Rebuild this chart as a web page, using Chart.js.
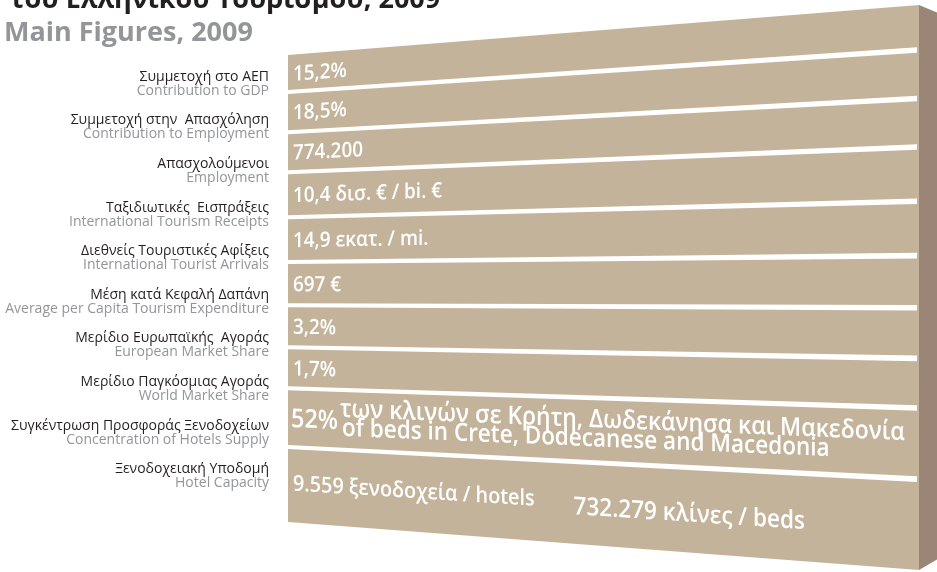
<!DOCTYPE html>
<html>
<head>
<meta charset="utf-8">
<script src="https://cdn.jsdelivr.net/npm/chart.js@4.4.1/dist/chart.umd.min.js"></script>
<style>
  html, body { margin: 0; padding: 0; background: #fff; }
  #wrap { width: 937px; height: 572px; }
</style>
</head>
<body>
<div id="wrap"><canvas id="figuresChart" width="937" height="572"></canvas></div>
<script>
// row labels (Greek / English) and the figure written on each row
const greekLabels = ['Συμμετοχή στο ΑΕΠ', 'Συμμετοχή στην  Απασχόληση', 'Απασχολούμενοι', 'Ταξιδιωτικές  Εισπράξεις',
  'Διεθνείς Τουριστικές Αφίξεις', 'Μέση κατά Κεφαλή Δαπάνη', 'Μερίδιο Ευρωπαϊκής  Αγοράς', 'Μερίδιο Παγκόσμιας Αγοράς',
  'Συγκέντρωση Προσφοράς Ξενοδοχείων', 'Ξενοδοχειακή Υποδομή'];
const englishLabels = ['Contribution to GDP', 'Contribution to Employment', 'Employment', 'International Tourism Receipts',
  'International Tourist Arrivals', 'Average per Capita Tourism Expenditure', 'European Market Share', 'World Market Share',
  'Concentration of Hotels Supply', 'Hotel Capacity'];
const values = ['15,2%', '18,5%', '774.200', '10,4 δισ. € / bi. €', '14,9 εκατ. / mi.', '697 €', '3,2%', '1,7%',
  '52%', '9.559 ξενοδοχεία / hotels'];
const hotelsNote = ['των κλινών σε Κρήτη, Δωδεκάνησα και Μακεδονία', 'of beds in Crete, Dodecanese and Macedonia'];
const bedsValue = '732.279 κλίνες / beds';

const titleTop = 'του Ελληνικού Τουρισμού, 2009';
const titleSub = 'Main Figures, 2009';

// how tall each row is, in y-scale units (last two rows hold more text)
const rowSpans = [0.85, 0.92, 0.92, 1.03, 1.03, 0.99, 0.96, 0.94, 1.35, 1.72];
const rowEdges = rowSpans.reduce((acc, s) => { acc.push(acc[acc.length - 1] + s); return acc; }, [0]);
const rowTotal = rowEdges[rowEdges.length - 1];

const tan = '#c4b39b';
const side = '#9b8576';
const condense = 0.9;
const rise = 50, drop = 48;   // block opens up toward the right

// map (x value, y value) to the slanted front face
function project(chart, u, v) {
  const a = chart.chartArea;
  const px = chart.scales.x.getPixelForValue(u);
  const t = (px - a.left) / (a.right - a.left);
  const top = a.top - rise * t;
  const bot = a.bottom + drop * t;
  const f = (chart.scales.y.getPixelForValue(v) - a.top) / (a.bottom - a.top);
  return [px, top + f * (bot - top)];
}

// white text laid along a row, skewed to follow the perspective
function rowText(ctx, chart, text, px, v, size, dy) {
  const u = chart.scales.x.getValueForPixel(px);
  const [x0, y0] = project(chart, u, v);
  const [x1, y1] = project(chart, u + 0.1, v);
  const slope = (y1 - y0) / (x1 - x0);
  ctx.save();
  ctx.font = '600 ' + size + 'px "Open Sans"';
  ctx.setTransform(condense, slope * condense, 0, 1, x0, y0);
  ctx.fillStyle = '#fff';
  ctx.textAlign = 'left';
  ctx.textBaseline = 'alphabetic';
  ctx.fillText(text, 0, dy === undefined ? size * 0.36 : dy);
  const w = ctx.measureText(text).width * condense;
  ctx.restore();
  return w;
}

const blockPlugin = {
  id: 'block',
  afterDraw(chart) {
    const ctx = chart.ctx;
    const a = chart.chartArea;
    const xs = chart.scales.x, ys = chart.scales.y;

    // titles
    ctx.save();
    ctx.textAlign = 'left';
    ctx.textBaseline = 'alphabetic';
    ctx.fillStyle = '#231f20';
    ctx.font = 'bold 27px "Open Sans"';
    ctx.fillText(titleTop, 10, 8);
    ctx.fillStyle = '#939598';
    ctx.font = 'bold 27px "Open Sans"';
    ctx.fillText(titleSub, 4, 41);
    ctx.restore();

    // side face
    const [xr, yt] = project(chart, 1, 0);
    const [, yb] = project(chart, 1, rowTotal);
    ctx.fillStyle = side;
    ctx.beginPath();
    ctx.moveTo(xr, yt);
    ctx.lineTo(xr + 24, yt + 10);
    ctx.lineTo(xr + 24, yb - 14);
    ctx.lineTo(xr, yb);
    ctx.closePath();
    ctx.fill();

    // front face
    ctx.fillStyle = tan;
    ctx.beginPath();
    [[0, 0], [1, 0], [1, rowTotal], [0, rowTotal]].forEach(([u, v], k) => {
      const [x, y] = project(chart, u, v);
      k ? ctx.lineTo(x, y) : ctx.moveTo(x, y);
    });
    ctx.closePath();
    ctx.fill();

    // white separators between rows
    const uEnd = xs.getValueForPixel(a.right - 2);
    ctx.fillStyle = '#fff';
    for (let i = 1; i < rowSpans.length; i++) {
      const [xl, yl] = project(chart, 0, rowEdges[i]);
      const [xe, ye] = project(chart, uEnd, rowEdges[i]);
      ctx.beginPath();
      ctx.moveTo(xl, yl - 2);
      ctx.lineTo(xe, ye - 2.8);
      ctx.lineTo(xe, ye + 2.8);
      ctx.lineTo(xl, yl + 2);
      ctx.closePath();
      ctx.fill();
    }

    // row labels on the left
    ctx.save();
    ctx.textAlign = 'right';
    ctx.textBaseline = 'middle';
    ctx.font = '14px "Open Sans"';
    greekLabels.forEach((g, i) => {
      const y = ys.getPixelForValue(i + 0.5);
      ctx.fillStyle = '#231f20';
      ctx.fillText(g, a.left - 19, y);
      ctx.fillStyle = '#939598';
      ctx.fillText(englishLabels[i], a.left - 19, y + 14);
    });
    ctx.restore();

    // figures on the rows
    const x0 = a.left + 5;
    for (let i = 0; i < 8; i++) {
      rowText(ctx, chart, values[i], x0, rowEdges[i] + rowSpans[i] * 0.5, 21);
    }
    const c8 = rowEdges[8] + rowSpans[8] * 0.5;
    const w52 = rowText(ctx, chart, values[8], a.left + 3, c8, 26);
    rowText(ctx, chart, hotelsNote[0], a.left + 3 + w52 + 2, c8, 25.5, -3);
    rowText(ctx, chart, hotelsNote[1], a.left + 3 + w52 + 4, c8, 25, 16);
    const wHotels = rowText(ctx, chart, values[9], x0, rowEdges[9] + rowSpans[9] * 0.47, 22);
    rowText(ctx, chart, bedsValue, x0 + wHotels + 39, rowEdges[9] + rowSpans[9] * 0.53, 25);
  }
};

new Chart(document.getElementById('figuresChart'), {
  type: 'scatter',
  data: { datasets: [] },
  options: {
    responsive: false,
    animation: false,
    devicePixelRatio: 1,
    layout: { padding: { left: 288, right: 18, top: 55, bottom: 50 } },
    plugins: { legend: { display: false }, tooltip: { enabled: false } },
    scales: {
      x: { type: 'linear', display: false, min: 0, max: 1 },
      y: { type: 'linear', display: false, min: 0, max: rowTotal, reverse: true }
    }
  },
  plugins: [blockPlugin]
});
</script>
</body>
</html>
